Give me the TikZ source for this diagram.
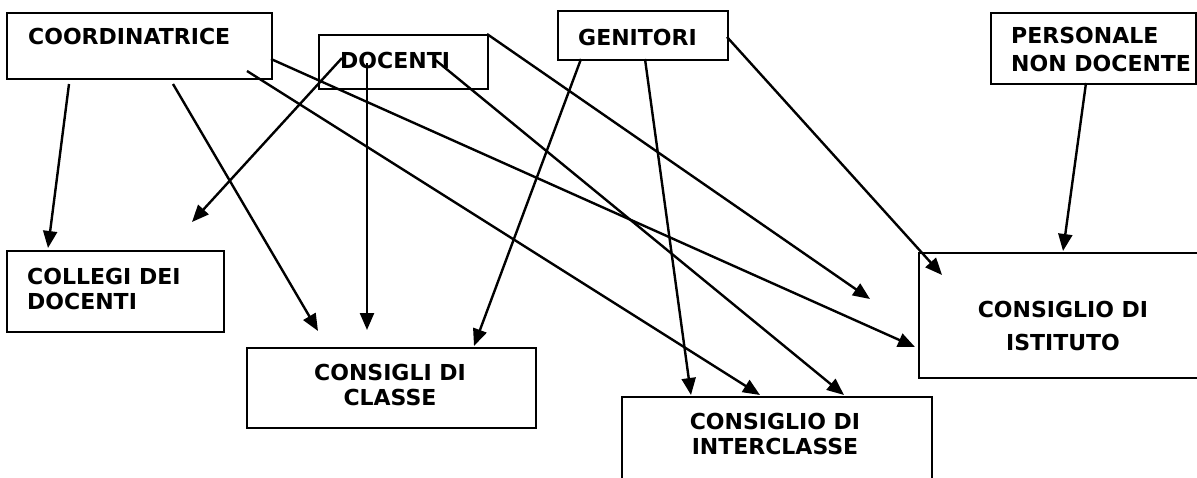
\documentclass[tikz,border=0pt]{standalone}
\usepackage{fontspec}
\setmainfont{DejaVu Sans}
\usetikzlibrary{arrows.meta}
\begin{document}
\begin{tikzpicture}[x=1pt,y=-1pt,
  box/.style={draw,line width=2.2pt,inner sep=0pt,anchor=north west},
  lbl/.style={font=\bfseries\fontsize{22}{25}\selectfont,inner sep=0pt,anchor=west,align=left},
  clbl/.style={font=\bfseries\fontsize{22}{25}\selectfont,inner sep=0pt,anchor=center,align=center},
  arr/.style={line width=2.4pt,-{Triangle[length=17pt,width=14pt]}}]
\clip (0,0) rectangle (1197,477);
\fill[white] (0,0) rectangle (1197,477);
% boxes
\node[box,minimum width=265pt,minimum height=66pt] (coord) at (6,12) {};
\node[box,minimum width=169pt,minimum height=54pt] (doc) at (318,34) {};
\node[box,minimum width=170pt,minimum height=49pt] (gen) at (557,10) {};
\node[box,minimum width=205pt,minimum height=71pt] (pers) at (990,12) {};
\node[box,minimum width=217pt,minimum height=81pt] (coll) at (6,250) {};
\node[box,minimum width=289pt,minimum height=80pt] (classe) at (246,347) {};
\node[box,minimum width=310pt,minimum height=100pt] (inter) at (621,396) {};
\node[box,minimum width=300pt,minimum height=125pt] (ist) at (918,252) {};
% labels
\node[lbl] (tcoord) at (28,36) {COORDINATRICE};
\node[lbl] (tdoc) at (340,60) {DOCENTI};
\node[lbl] (tgen) at (578,37) {GENITORI};
\node[lbl,font=\bfseries\fontsize{22}{28}\selectfont] (tpers) at (1011,49) {PERSONALE\\NON DOCENTE};
\node[lbl] (tcoll) at (27,288.5) {COLLEGI DEI\\DOCENTI};
\node[clbl] (tclasse) at (390,384.5) {CONSIGLI DI\\CLASSE};
\node[clbl] (tinter) at (775,434) {CONSIGLIO DI\\INTERCLASSE};
\node[clbl,font=\bfseries\fontsize{22}{33}\selectfont] (tist) at (1063,325.5) {CONSIGLIO DI\\ISTITUTO};
% connector end points
\coordinate (a1s) at (69,84);   \coordinate (a1e) at (48,248);
\coordinate (a2s) at (173,84);  \coordinate (a2e) at (318,331);
\coordinate (a3s) at (247,71);  \coordinate (a3e) at (760,395);
\coordinate (a4s) at (271,59);  \coordinate (a4e) at (915,347);
\coordinate (a5s) at (342,58);  \coordinate (a5e) at (192,222);
\coordinate (a6s) at (367,63);  \coordinate (a6e) at (367,330);
\coordinate (a7s) at (433,58);  \coordinate (a7e) at (844,395);
\coordinate (a8s) at (487,34);  \coordinate (a8e) at (870,299);
\coordinate (a9s) at (581,59);  \coordinate (a9e) at (474,346);
\coordinate (a10s) at (645,59); \coordinate (a10e) at (691,395);
\coordinate (a11s) at (727,37); \coordinate (a11e) at (942,275);
\coordinate (a12s) at (1086,83); \coordinate (a12e) at (1063,251);
% connectors
\foreach \i in {1,...,12} {\draw[arr] (a\i s) -- (a\i e);}
\end{tikzpicture}
\end{document}
